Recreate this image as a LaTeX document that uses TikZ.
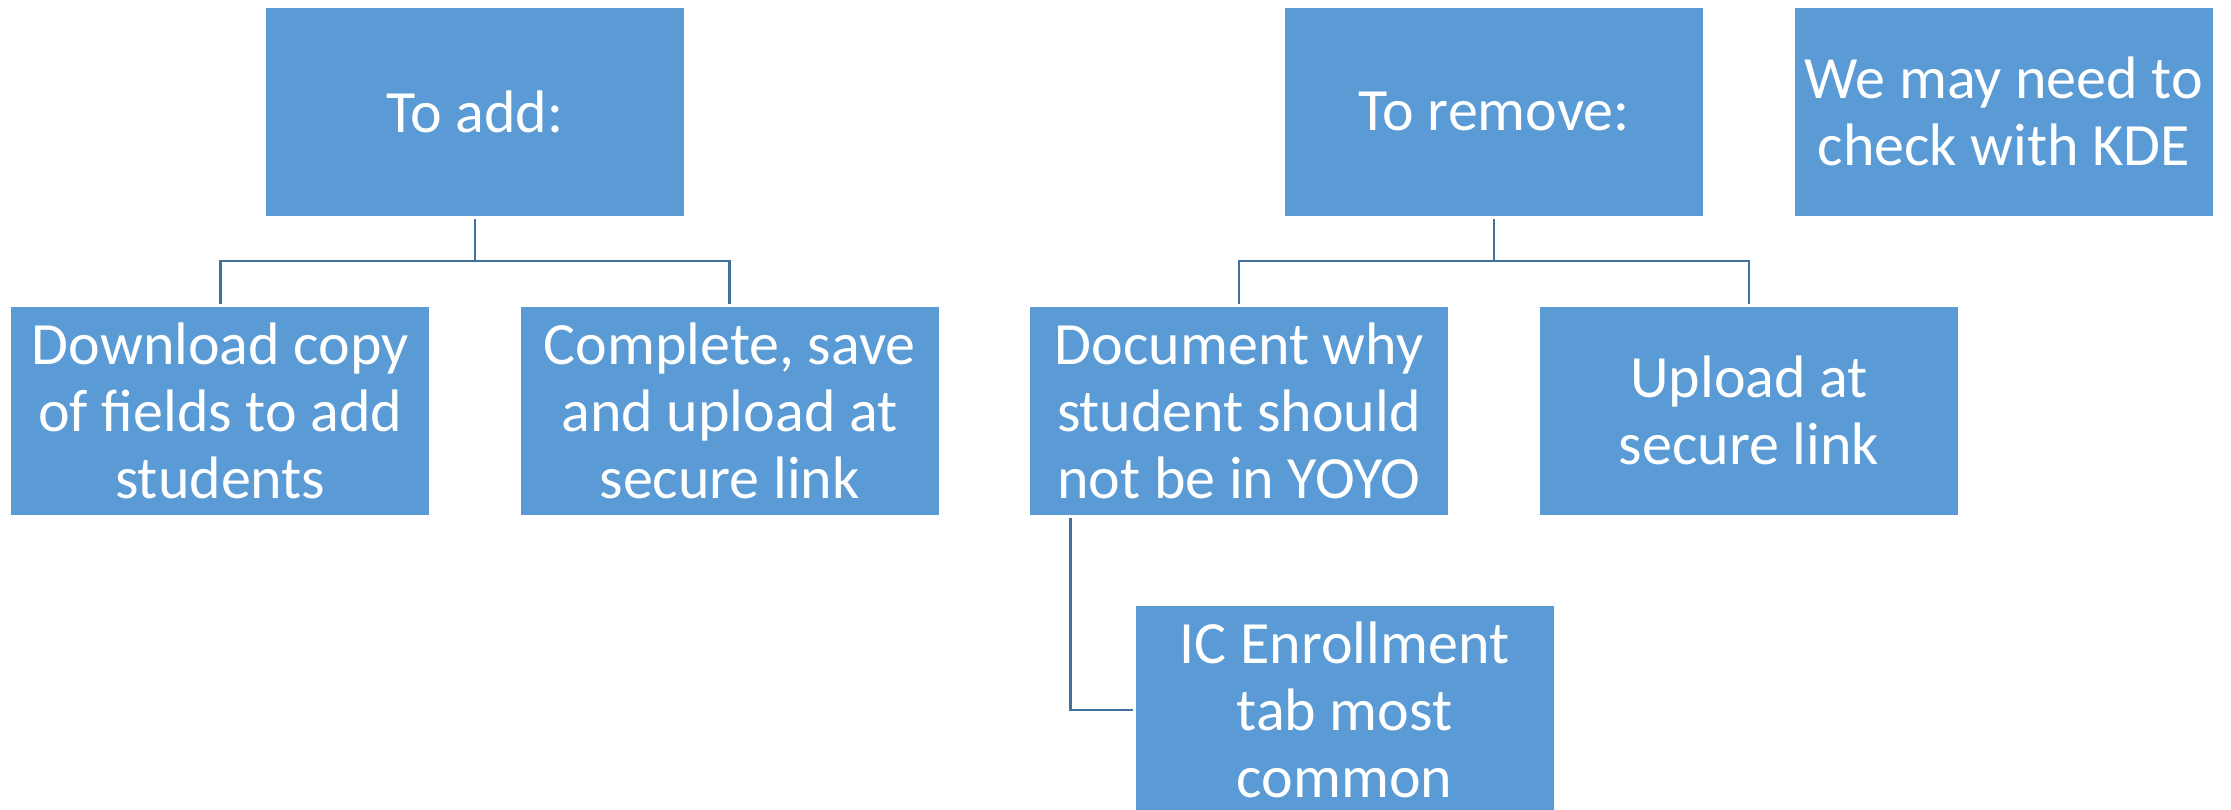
\documentclass[tikz,border=0pt]{standalone}
\usepackage{fontspec}
\setmainfont{Carlito}
\definecolor{boxblue}{HTML}{5B9BD5}
\definecolor{lineblue}{HTML}{41719C}
\tikzset{
  box/.style={fill=boxblue, draw=none, minimum width=418pt, minimum height=207.7pt,
    inner sep=0pt, align=center, text=white, font=\fontsize{60}{67}\selectfont},
  conn/.style={draw=lineblue, line width=2.5pt}
}
\begin{document}
\begin{tikzpicture}[x=1pt,y=-1pt]
\useasboundingbox (0,0) rectangle (2231,810);
\node[box] (add) at (475,111.75) {To add:};
\node[box] (remove) at (1494.2,111.75) {To remove:};
\node[box] (kde) at (2003.7,111.75) {We may need to\\check with KDE};
\node[box] (dl) at (220.3,410.65) {Download copy\\of fields to add\\students};
\node[box] (cp) at (729.6,410.65) {Complete, save\\and upload at\\secure link};
\node[box] (doc) at (1239,410.65) {Document why\\student should\\not be in YOYO};
\node[box] (up) at (1749,410.65) {Upload at\\secure link};
\node[box] (ic) at (1344.5,710) {IC Enrollment\\tab most\\common};
\draw[conn] ([yshift=-3pt]add.south) -- ([yshift=-45pt]add.south) -| ([yshift=2.5pt]dl.north);
\draw[conn] ([yshift=-45pt]add.south) -| ([yshift=2.5pt]cp.north);
\draw[conn] ([yshift=-3pt]remove.south) -- ([yshift=-45pt]remove.south) -| ([yshift=2.5pt]doc.north);
\draw[conn] ([yshift=-45pt]remove.south) -| ([yshift=2.5pt]up.north);
\draw[conn] ([xshift=40.6pt,yshift=-3pt]doc.south west) |- ([xshift=-2.3pt]ic.west);
\end{tikzpicture}
\end{document}
